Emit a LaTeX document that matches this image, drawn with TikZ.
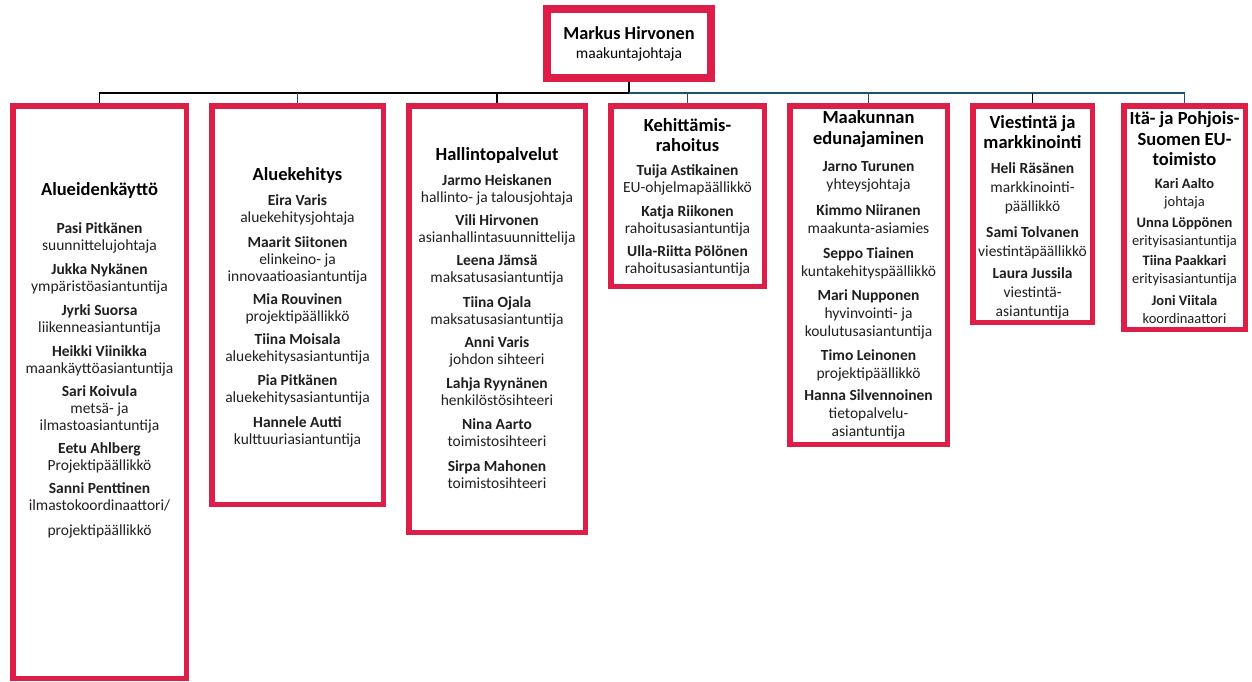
\documentclass[tikz,border=0pt]{standalone}
\usepackage{fontspec}
\setmainfont{Carlito}
\usepackage{tikz}
\definecolor{punainen}{RGB}{220,30,72}
\definecolor{sininen}{RGB}{31,80,108}

\begin{document}
\begin{tikzpicture}[x=1pt,y=-1pt,
		yksikko/.style={draw=punainen,line width=5.5pt,inner sep=0pt},
		otsikko/.style={font=\fontsize{18.5}{20.5}\selectfont\bfseries,align=center,inner sep=0pt},
		lista/.style={font=\fontsize{15.5}{17}\selectfont,align=center,inner sep=0pt,anchor=north,text=black!88},
		linja/.style={line width=1.6pt}]
		\useasboundingbox (0,0) rectangle (1252,681);
		% johtaja
		\node[draw=punainen,line width=8pt,minimum width=164,minimum height=69,align=center,
			font=\fontsize{18.3}{19}\selectfont] (johtaja) at (629,43.5)
			{\textbf{Markus Hirvonen}\\{\fontsize{15.5}{17}\selectfont maakuntajohtaja}};
		% yksikot
		\node[yksikko,minimum width=173.5,minimum height=572.5] (kaytto) at (99.5,392) {};
		\node[yksikko,minimum width=171.5,minimum height=398.5] (kehitys) at (297.5,305) {};
		\node[yksikko,minimum width=176.5,minimum height=426.5] (hallinto) at (497,319) {};
		\node[yksikko,minimum width=153.5,minimum height=180.5] (rahoitus) at (687.5,196) {};
		\node[yksikko,minimum width=157.5,minimum height=338.5] (edunvalvonta) at (868.5,275) {};
		\node[yksikko,minimum width=119.5,minimum height=216.5] (viestinta) at (1032.5,214) {};
		\node[yksikko,minimum width=121.5,minimum height=223.5] (eutoimisto) at (1184.5,217.5) {};
		% viivat
		\coordinate (haara) at (629,93);
		\draw[linja] (johtaja) -- (haara);
		\draw[linja] (haara) -| (kaytto.north);
		\draw[linja,sininen] (haara) -| (eutoimisto.north);
		\foreach \n/\v in {kehitys/sininen,hallinto/black,rahoitus/sininen,edunvalvonta/sininen,viestinta/black} {
			\draw[linja,\v] (haara -| \n.north) -- (\n.north);
		}
		% otsikot
		\node[otsikko] (kaytto-o) at (99.5,190) {Alueidenkäyttö};
		\node[otsikko] (kehitys-o) at (297.5,175) {Aluekehitys};
		\node[otsikko] (hallinto-o) at (497,155) {Hallintopalvelut};
		\node[otsikko] (rahoitus-o) at (687.5,135) {Kehittämis-\\rahoitus};
		\node[otsikko] (edunvalvonta-o) at (868.5,129) {Maakunnan\\edunajaminen};
		\node[otsikko] (viestinta-o) at (1032.5,132) {Viestintä ja\\markkinointi};
		\node[otsikko] (eutoimisto-o) at (1184.5,139) {Itä- ja Pohjois-\\Suomen EU-\\toimisto};
		% henkilot
		\node[lista] (kaytto-h) at (99.5,222) {\textbf{Pasi Pitkänen}\\suunnittelujohtaja\\[7pt]
			\textbf{Jukka Nykänen}\\ympäristöasiantuntija\\[7pt]
			\textbf{Jyrki Suorsa}\\liikenneasiantuntija\\[7pt]
			\textbf{Heikki Viinikka}\\maankäyttöasiantuntija\\[6pt]
			\textbf{Sari Koivula}\\metsä- ja\\ilmastoasiantuntija\\[6pt]
			\textbf{Eetu Ahlberg}\\Projektipäällikkö\\[6pt]
			\textbf{Sanni Penttinen}\\ilmastokoordinaattori/\\[8pt]projektipäällikkö};
		\node[lista] (kehitys-h) at (297.5,194) {\textbf{Eira Varis}\\aluekehitysjohtaja\\[8pt]
			\textbf{Maarit Siitonen}\\elinkeino- ja\\innovaatioasiantuntija\\[6pt]
			\textbf{Mia Rouvinen}\\projektipäällikkö\\[6pt]
			\textbf{Tiina Moisala}\\aluekehitysasiantuntija\\[7pt]
			\textbf{Pia Pitkänen}\\aluekehitysasiantuntija\\[8pt]
			\textbf{Hannele Autti}\\kulttuuriasiantuntija};
		\node[lista] (hallinto-h) at (497,174) {\textbf{Jarmo Heiskanen}\\hallinto- ja talousjohtaja\\[6pt]
			\textbf{Vili Hirvonen}\\asianhallintasuunnittelija\\[6pt]
			\textbf{Leena Jämsä}\\maksatusasiantuntija\\[8pt]
			\textbf{Tiina Ojala}\\maksatusasiantuntija\\[6pt]
			\textbf{Anni Varis}\\johdon sihteeri\\[7pt]
			\textbf{Lahja Ryynänen}\\henkilöstösihteeri\\[7pt]
			\textbf{Nina Aarto}\\toimistosihteeri\\[8pt]
			\textbf{Sirpa Mahonen}\\toimistosihteeri};
		\node[lista] (rahoitus-h) at (687.5,164) {\textbf{Tuija Astikainen}\\EU-ohjelmapäällikkö\\[7pt]
			\textbf{Katja Riikonen}\\rahoitusasiantuntija\\[6pt]
			\textbf{Ulla-Riitta Pölönen}\\rahoitusasiantuntija};
		\node[lista,font=\fontsize{15.5}{18}\selectfont] (edunvalvonta-h) at (868.5,161)
			{\textbf{Jarno Turunen}\\yhteysjohtaja\\[8pt]
			\textbf{Kimmo Niiranen}\\maakunta-asiamies\\[7pt]
			\textbf{Seppo Tiainen}\\kuntakehityspäällikkö\\[6pt]
			\textbf{Mari Nupponen}\\hyvinvointi- ja\\koulutusasiantuntija\\[6pt]
			\textbf{Timo Leinonen}\\projektipäällikkö\\[4pt]
			\textbf{Hanna Silvennoinen}\\tietopalvelu-\\asiantuntija};
		\node[lista,font=\fontsize{15.5}{19}\selectfont] (viestinta-h) at (1032.5,162)
			{\textbf{Heli Räsänen}\\markkinointi-\\päällikkö\\[7pt]
			\textbf{Sami Tolvanen}\\viestintäpäällikkö\\[3pt]
			\textbf{Laura Jussila}\\viestintä-\\asiantuntija};
		\node[lista,font=\fontsize{14.5}{18}\selectfont] (eutoimisto-h) at (1184.5,178)
			{\textbf{Kari Aalto}\\johtaja\\[3pt]
			\textbf{Unna Löppönen}\\erityisasiantuntija\\[2pt]
			\textbf{Tiina Paakkari}\\erityisasiantuntija\\[4pt]
			\textbf{Joni Viitala}\\koordinaattori};
\end{tikzpicture}
\end{document}
